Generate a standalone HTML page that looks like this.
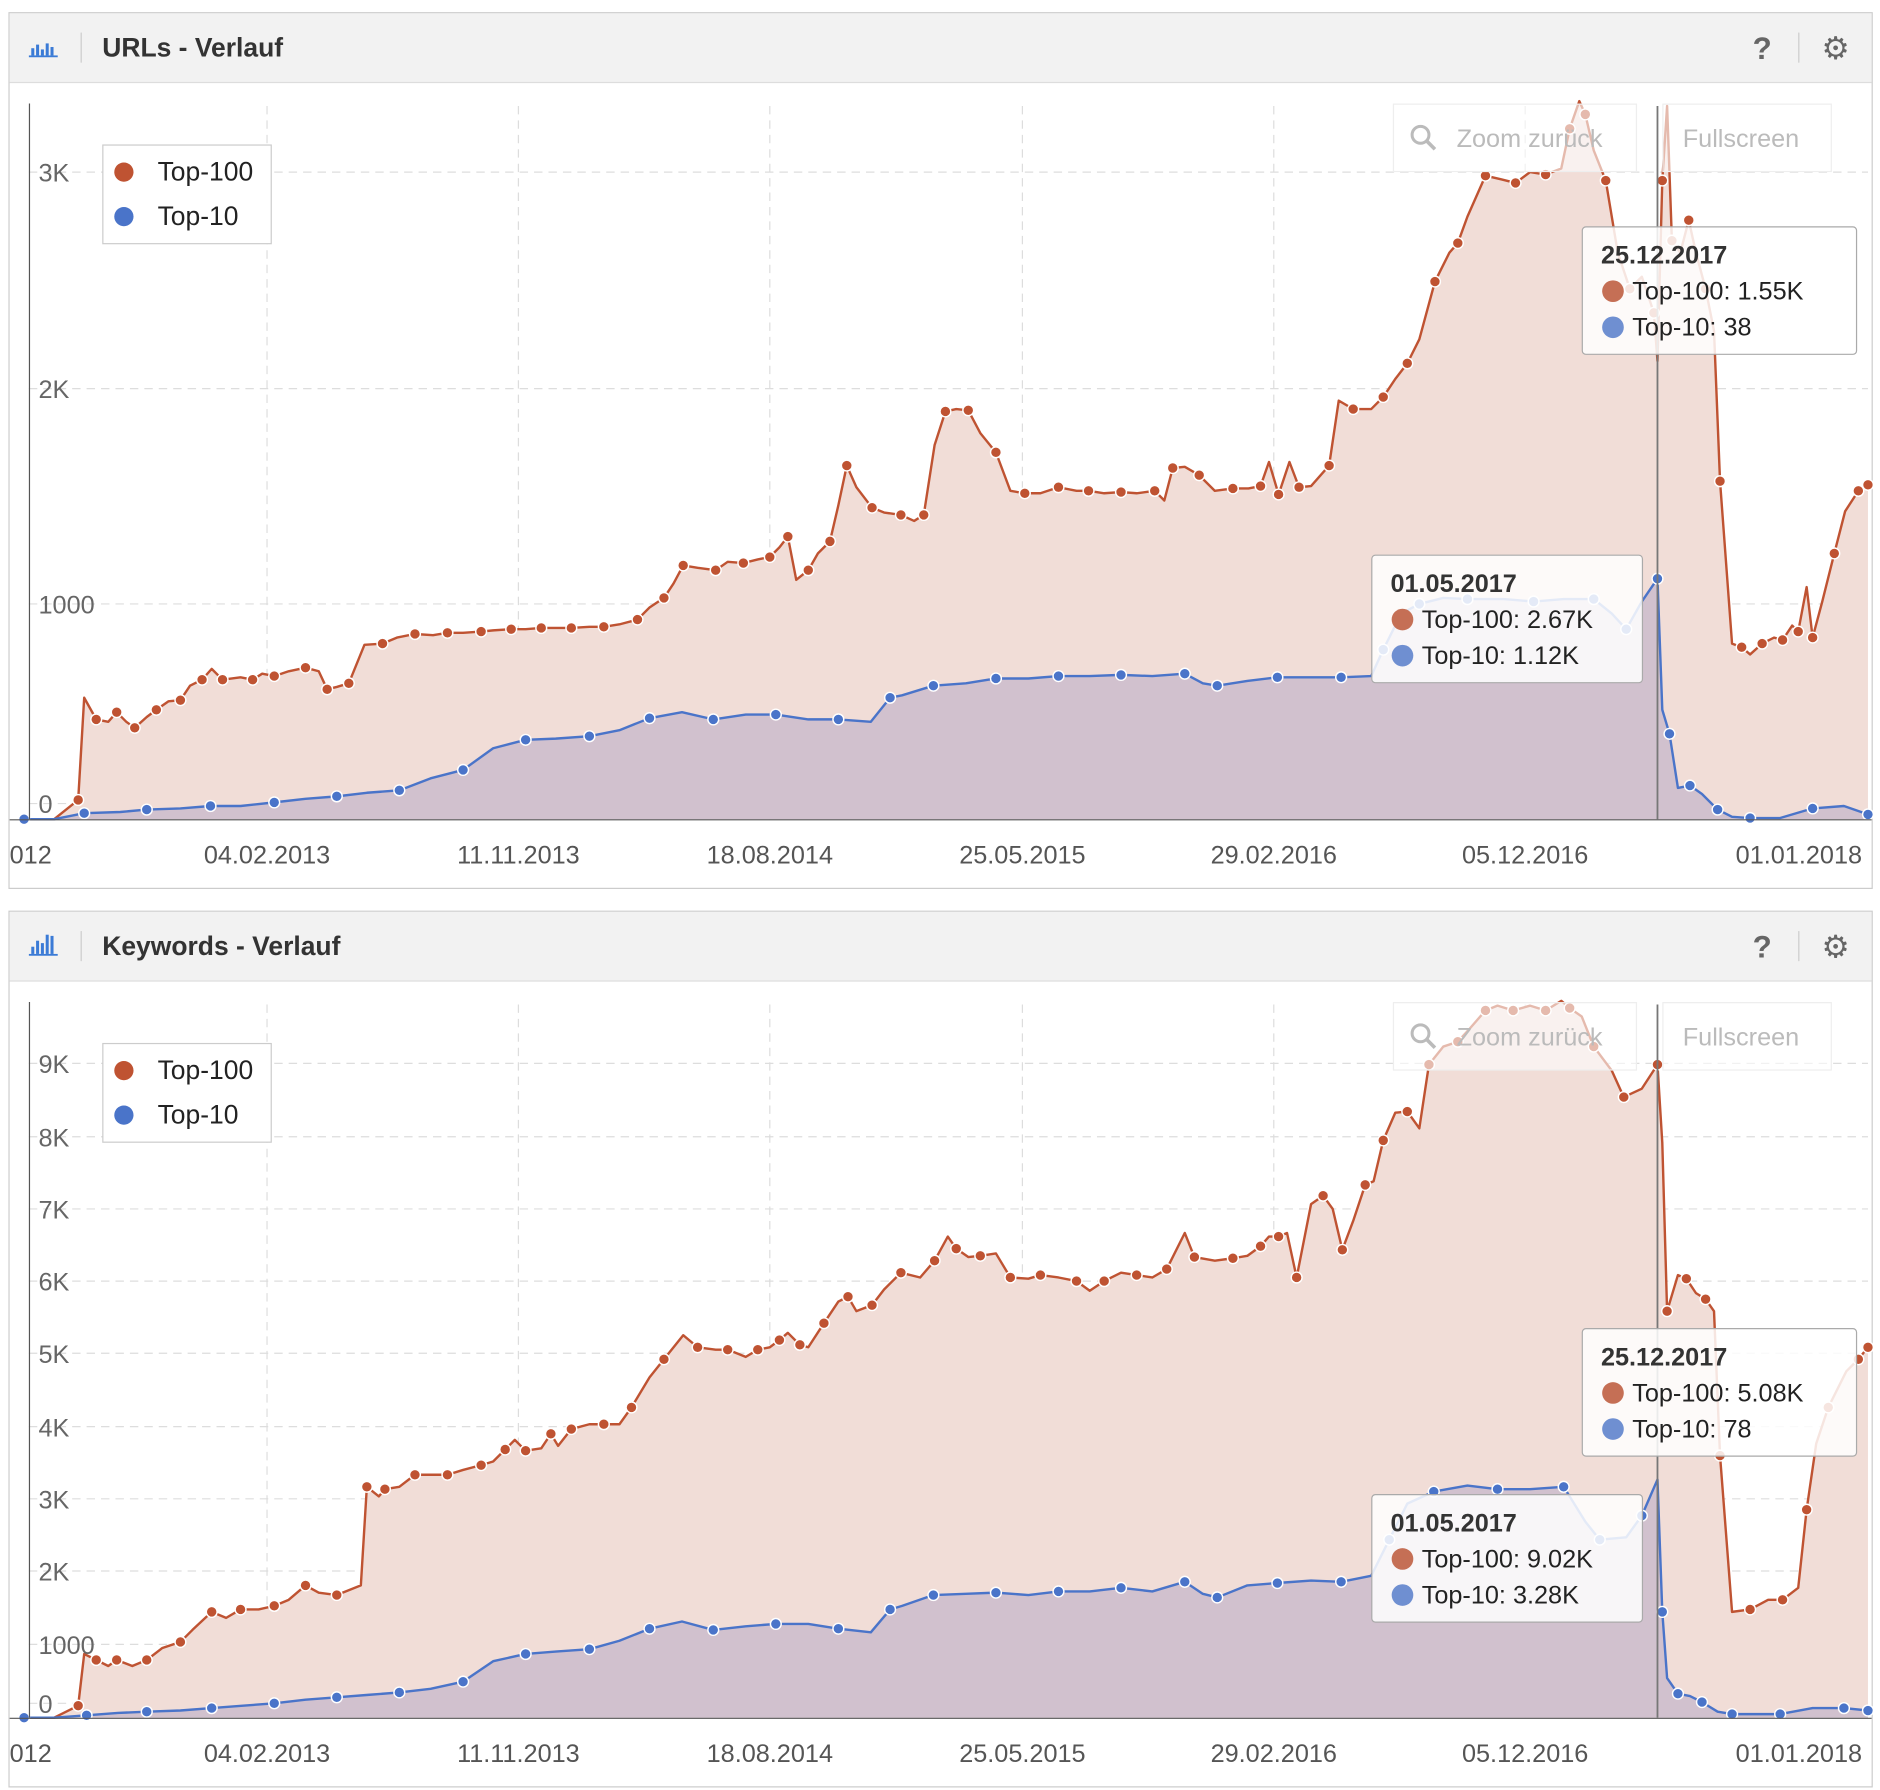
<!DOCTYPE html>
<html><head><meta charset="utf-8"><style>
html,body{margin:0;padding:0;background:#fff;}
svg{display:block;font-family:"Liberation Sans",sans-serif;}
</style></head><body>
<svg id="s" width="1880" height="1790" viewBox="0 0 1563 1488" xmlns="http://www.w3.org/2000/svg"></svg>
<script>
const S=document.getElementById('s');let h='';
const U100=[[20,681],[45,681],[65,665],[70,580],[80,598],[90,600],[97,592],[105,600],[112,605],[122,596],[130,590],[140,583],[150,582],[158,570],[168,565],[176,556],[185,565],[200,563],[210,565],[218,560],[228,562],[240,558],[254,555],[265,558],[272,573],[280,571],[290,568],[303,536],[318,535],[330,530],[345,527],[360,528],[372,526],[385,526],[400,525],[410,524],[425,523],[437,523],[450,522],[462,522],[475,522],[490,521],[502,521],[515,519],[530,515],[540,505],[552,497],[560,485],[568,470],[580,472],[595,474],[605,467],[618,468],[630,465],[640,463],[648,455],[655,446],[662,482],[672,474],[680,460],[690,450],[697,420],[704,387],[712,405],[725,422],[735,426],[749,428],[760,433],[768,428],[777,370],[786,342],[795,340],[805,341],[815,360],[828,376],[840,408],[852,410],[865,410],[880,405],[895,408],[905,408],[918,410],[932,409],[945,410],[960,408],[968,416],[975,389],[985,388],[997,395],[1010,408],[1025,406],[1038,406],[1048,404],[1055,384],[1063,411],[1072,384],[1080,405],[1090,404],[1105,387],[1113,333],[1125,340],[1140,340],[1150,330],[1160,315],[1170,302],[1180,282],[1193,234],[1205,210],[1212,202],[1220,180],[1235,146],[1248,149],[1260,152],[1272,143],[1285,145],[1298,140],[1305,107],[1313,84],[1318,95],[1325,125],[1335,150],[1345,210],[1355,240],[1365,230],[1375,260],[1378,300],[1382,150],[1386,88],[1390,200],[1397,210],[1404,183],[1410,210],[1418,240],[1425,275],[1430,400],[1440,535],[1448,538],[1455,544],[1465,535],[1475,530],[1482,532],[1490,520],[1495,525],[1502,488],[1507,530],[1515,500],[1525,460],[1534,425],[1545,408],[1553,403]];
const U10=[[20,681],[45,681],[70,676],[100,675],[122,673],[150,672],[175,670],[200,670],[228,667],[254,664],[280,662],[305,659],[332,657],[358,647],[385,640],[410,622],[437,615],[462,614],[490,612],[515,607],[540,597],[567,592],[593,598],[620,594],[645,594],[672,598],[697,598],[724,600],[740,580],[750,578],[776,570],[803,568],[828,564],[855,564],[880,562],[906,562],[932,561],[958,562],[985,560],[1000,568],[1012,570],[1037,566],[1062,563],[1090,563],[1115,563],[1140,562],[1150,540],[1165,510],[1180,502],[1200,497],[1220,498],[1250,498],[1275,500],[1300,498],[1325,498],[1340,510],[1352,523],[1365,500],[1378,481],[1382,590],[1388,610],[1395,655],[1405,653],[1415,660],[1428,673],[1440,679],[1455,680],[1480,680],[1507,672],[1533,670],[1553,677]];
const K100=[[20,1428],[45,1428],[65,1418],[70,1375],[80,1380],[90,1385],[97,1380],[110,1385],[122,1380],[135,1370],[150,1365],[160,1355],[176,1340],[188,1345],[200,1338],[215,1338],[228,1335],[240,1330],[254,1318],[265,1324],[280,1326],[300,1318],[305,1236],[315,1244],[320,1238],[332,1236],[345,1226],[360,1226],[372,1226],[385,1222],[400,1218],[410,1215],[420,1205],[428,1197],[437,1206],[450,1204],[458,1192],[464,1202],[475,1188],[490,1184],[502,1184],[515,1184],[525,1170],[540,1145],[552,1130],[568,1110],[580,1120],[595,1122],[605,1122],[620,1128],[630,1122],[640,1120],[648,1114],[655,1108],[665,1118],[672,1120],[685,1100],[697,1082],[705,1078],[712,1090],[725,1085],[735,1072],[749,1058],[765,1062],[777,1048],[788,1028],[795,1038],[805,1045],[815,1044],[828,1042],[840,1062],[855,1063],[865,1060],[880,1062],[895,1065],[906,1073],[918,1065],[932,1058],[945,1060],[958,1062],[970,1055],[985,1025],[993,1045],[1010,1048],[1025,1046],[1037,1044],[1048,1036],[1055,1028],[1063,1028],[1070,1025],[1078,1062],[1090,1001],[1100,994],[1108,1005],[1116,1039],[1125,1015],[1135,985],[1142,982],[1150,948],[1160,925],[1170,924],[1180,938],[1188,885],[1200,870],[1212,866],[1222,855],[1235,840],[1245,836],[1258,840],[1272,836],[1285,840],[1298,832],[1305,838],[1315,845],[1325,870],[1340,890],[1350,912],[1365,905],[1378,885],[1382,950],[1386,1090],[1395,1060],[1402,1063],[1410,1075],[1418,1080],[1425,1090],[1430,1210],[1440,1340],[1455,1338],[1470,1330],[1482,1330],[1495,1320],[1502,1255],[1510,1200],[1520,1170],[1535,1140],[1545,1130],[1553,1120]];
const K10=[[20,1428],[45,1428],[72,1426],[98,1424],[122,1423],[150,1422],[176,1420],[202,1418],[228,1416],[254,1413],[280,1411],[306,1409],[332,1407],[358,1404],[385,1398],[410,1381],[437,1375],[462,1373],[490,1371],[515,1364],[540,1354],[567,1348],[593,1355],[620,1352],[645,1350],[672,1350],[697,1354],[724,1357],[740,1338],[750,1335],[776,1326],[803,1325],[828,1324],[855,1326],[880,1323],[906,1323],[932,1320],[958,1323],[985,1315],[1000,1325],[1012,1328],[1037,1318],[1062,1316],[1090,1314],[1115,1315],[1140,1310],[1155,1280],[1170,1250],[1192,1240],[1220,1235],[1245,1238],[1272,1238],[1300,1236],[1318,1265],[1330,1280],[1352,1278],[1365,1260],[1378,1230],[1382,1340],[1386,1395],[1395,1408],[1405,1410],[1415,1415],[1428,1423],[1440,1425],[1455,1425],[1480,1425],[1507,1420],[1533,1420],[1553,1422]];
const R='#bf5332',B='#4a74c9';
function pts(a){return a.map(p=>p.join(',')).join(' ')}
function series(a,col,fill,base){
 let s=`<polygon points="${pts(a)} ${a[a.length-1][0]},${base} ${a[0][0]},${base}" fill="${fill}"/>`;
 s+=`<polyline points="${pts(a)}" fill="none" stroke="${col}" stroke-width="2" stroke-linejoin="round"/>`;
 a.forEach((p,i)=>{if(i%2==0||i==a.length-1)s+=`<circle cx="${p[0]}" cy="${p[1]}" r="4.5" fill="${col}" stroke="#fff" stroke-width="1.2"/>`;});
 return s;}
function panel(oy,title,yl,base,t100,t10,tt1,tt2,bars){
 let s=`<rect x="7.5" y="${oy+10.5}" width="1549" height="728" fill="#fff" stroke="#ccc"/>`;
 s+=`<rect x="8" y="${oy+11}" width="1548" height="57" fill="#f2f2f2"/><line x1="8" y1="${oy+68.5}" x2="1556" y2="${oy+68.5}" stroke="#ddd"/>`;
 for(let i=0;i<bars;i++){} 
 s+=`<g fill="#3b7bd6">`;[[26,6],[30,9],[34,5],[38,10],[42,7]].forEach((b,i)=>{s+=`<rect x="${b[0]}" y="${oy+46-b[1]-(title[0]=='K'?i*2:0)}" width="2.5" height="${b[1]+(title[0]=='K'?i*2:0)}"/>`});s+=`<rect x="24" y="${oy+46}" width="24" height="1.5"/></g>`;
 s+=`<line x1="67.5" y1="${oy+27}" x2="67.5" y2="${oy+52}" stroke="#ccc"/><line x1="1495.5" y1="${oy+27}" x2="1495.5" y2="${oy+52}" stroke="#ccc"/>`;
 s+=`<text x="85" y="${oy+47}" font-size="22" font-weight="bold" fill="#333">${title}</text>`;
 s+=`<text x="1465" y="${oy+49}" font-size="26" font-weight="bold" fill="#666" text-anchor="middle">?</text>`;
 s+=`<text x="1526" y="${oy+49}" font-size="26" fill="#666" text-anchor="middle">⚙</text>`;
 yl.forEach(y=>{s+=`<line x1="24" x2="1553" y1="${y[1]}" y2="${y[1]}" stroke="#ddd" stroke-dasharray="7,5"/>`});
 [222,431,640,850,1059,1268].forEach(x=>{s+=`<line x1="${x}" x2="${x}" y1="${oy+88}" y2="${base}" stroke="#ddd" stroke-dasharray="7,5"/>`});
 s+=series(t100,R,'#f1ddd7',base);
 s+=series(t10,B,'rgba(150,140,190,0.35)',base);
 s+=`<line x1="24.5" y1="${oy+86}" x2="24.5" y2="${base}" stroke="#555"/><line x1="8" x2="1556" y1="${base+0.5}" y2="${base+0.5}" stroke="#555"/>`;
 s+=`<line x1="1378" x2="1378" y1="${oy+88}" y2="${base}" stroke="#777" stroke-width="1.5"/>`;
 yl.forEach(y=>{s+=`<text x="32" y="${y[1]+8}" font-size="21" fill="#666">${y[0]}</text>`});
 [['04.02.2013',222],['11.11.2013',431],['18.08.2014',640],['25.05.2015',850],['29.02.2016',1059],['05.12.2016',1268]].forEach(d=>{s+=`<text x="${d[1]}" y="${base+37}" font-size="21" fill="#555" text-anchor="middle">${d[0]}</text>`});
 s+=`<text x="8" y="${base+37}" font-size="21" fill="#555">012</text><text x="1443" y="${base+37}" font-size="21" fill="#555">01.01.2018</text>`;
 s+=`<rect x="1158.5" y="${oy+86.5}" width="202" height="56" fill="rgba(255,255,255,0.6)" stroke="#eee"/><text x="1211" y="${oy+122}" font-size="21" fill="#bbb">Zoom zurück</text><circle cx="1181" cy="${oy+112}" r="7" fill="none" stroke="#bbb" stroke-width="2.5"/><line x1="1186" y1="${oy+117}" x2="1193" y2="${oy+124}" stroke="#bbb" stroke-width="3"/>`;
 s+=`<rect x="1382.5" y="${oy+86.5}" width="140" height="56" fill="rgba(255,255,255,0.6)" stroke="#eee"/><text x="1399" y="${oy+122}" font-size="21" fill="#bbb">Fullscreen</text>`;
 s+=`<rect x="85.5" y="${oy+120.5}" width="140" height="82" fill="#fff" stroke="#ccc"/><circle cx="103" cy="${oy+143}" r="8" fill="${R}"/><text x="131" y="${oy+150}" font-size="22" fill="#222">Top-100</text><circle cx="103" cy="${oy+180}" r="8" fill="${B}"/><text x="131" y="${oy+187}" font-size="22" fill="#222">Top-10</text>`;
 [tt1,tt2].forEach(t=>{s+=`<rect x="${t[0]+.5}" y="${t[1]+.5}" width="${t[2]}" height="106" rx="3" fill="rgba(255,255,255,0.85)" stroke="#aaa"/><text x="${t[0]+16}" y="${t[1]+31}" font-size="21" font-weight="bold" fill="#333">${t[3]}</text><circle cx="${t[0]+26}" cy="${t[1]+54}" r="9" fill="#c56f55"/><text x="${t[0]+42}" y="${t[1]+61}" font-size="21" fill="#222">Top-100: ${t[4]}</text><circle cx="${t[0]+26}" cy="${t[1]+84}" r="9" fill="#6f8fd1"/><text x="${t[0]+42}" y="${t[1]+91}" font-size="21" fill="#222">Top-10: ${t[5]}</text>`});
 return s;}
h+=panel(0,'URLs - Verlauf',[['3K',143],['2K',323],['1000',502],['0',668]],681,U100,U10,[1140,461,225,'01.05.2017','2.67K','1.12K'],[1315,188,228,'25.12.2017','1.55K','38'],0);
h+=panel(747,'Keywords - Verlauf',[['9K',884],['8K',945],['7K',1005],['6K',1065],['5K',1125],['4K',1186],['3K',1246],['2K',1306],['1000',1367],['0',1416]],1428,K100,K10,[1140,1242,225,'01.05.2017','9.02K','3.28K'],[1315,1104,228,'25.12.2017','5.08K','78'],0);
S.innerHTML=h;
</script>
</body></html>
